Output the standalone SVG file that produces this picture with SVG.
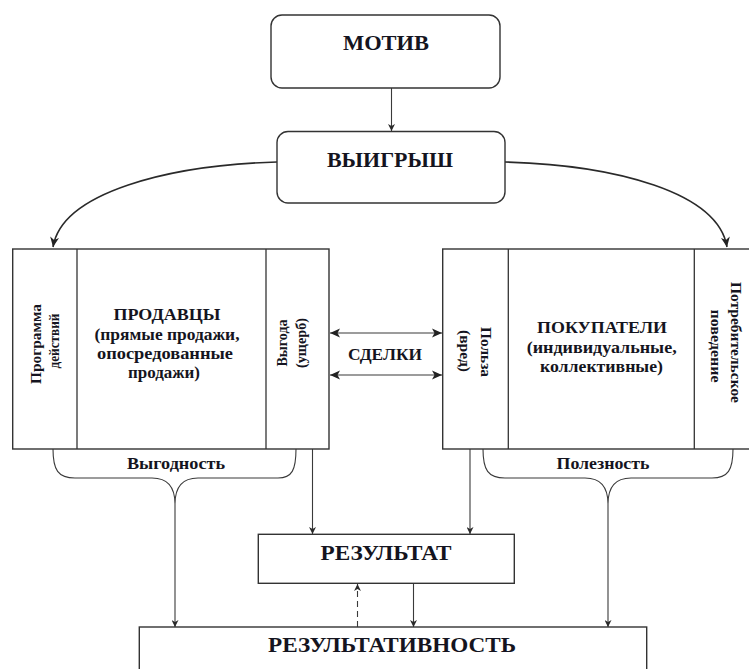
<svg xmlns="http://www.w3.org/2000/svg" width="749" height="669" viewBox="0 0 749 669">
<style>
.bx{fill:#fff;stroke:#333;stroke-width:1.4}
.dv{stroke:#333;stroke-width:1.3}
.ln{fill:none;stroke:#3a3a3a;stroke-width:1.1}
.cv{fill:none;stroke:#2a2a2a;stroke-width:1.6}
.t{font-family:"Liberation Serif","Times New Roman",serif;font-weight:bold;fill:#141420;text-anchor:middle}
.h{font-size:21px}
.m{font-size:16px}
.s{font-size:15px}
</style>
<defs>
<marker id="a" viewBox="0 0 10 10" refX="10" refY="5" markerWidth="7" markerHeight="7" markerUnits="userSpaceOnUse" orient="auto-start-reverse">
<path d="M0,0 L10,5 L0,10 L3,5 Z" fill="#2a2a2a"/>
</marker>
<marker id="b" viewBox="0 0 10 10" refX="10" refY="5" markerWidth="10" markerHeight="10" markerUnits="userSpaceOnUse" orient="auto-start-reverse">
<path d="M0,0.5 L10,5 L0,9.5 L2.5,5 Z" fill="#222"/>
</marker>
<marker id="c" viewBox="0 0 10 10" refX="10" refY="5" markerWidth="10" markerHeight="10" markerUnits="userSpaceOnUse" orient="auto">
<path d="M0,0.5 L10,5 L0,9.5 L3,5 Z" fill="#222"/>
</marker>
</defs>

<g id="connectors">
<line class="ln" x1="391.5" y1="88" x2="391.5" y2="131" marker-end="url(#a)"/>
<path class="cv" d="M277,162 C170,165 62,192 53,247" marker-end="url(#c)"/>
<path class="cv" d="M505,162 C615,165 718,192 727,247" marker-end="url(#c)"/>
<line class="ln" x1="330" y1="333" x2="442" y2="333" stroke-width="1.4" marker-start="url(#b)" marker-end="url(#b)"/>
<line class="ln" x1="330" y1="375" x2="442" y2="375" stroke-width="1.4" marker-start="url(#b)" marker-end="url(#b)"/>
<path class="ln" d="M53,449 C53,470 58,478 75,478 L152,478 C168,478 175,488 175,504 C175,488 182,478 198,478 L278,478 C292,478 296,470 296,449"/>
<path class="ln" d="M483,449 C483,470 488,478 505,478 L585,478 C601,478 608,488 608,504 C608,488 615,478 631,478 L712,478 C728,478 733,470 733,449"/>
<line class="ln" x1="175" y1="504" x2="175" y2="627" marker-end="url(#a)"/>
<line class="ln" x1="608" y1="504" x2="608" y2="627" marker-end="url(#a)"/>
<line class="ln" x1="312.5" y1="449" x2="312.5" y2="534" marker-end="url(#a)"/>
<line class="ln" x1="470" y1="449" x2="470" y2="534" marker-end="url(#a)"/>
<line class="ln" x1="413.5" y1="583.5" x2="413.5" y2="627" marker-end="url(#a)"/>
<line class="ln" x1="357.5" y1="627" x2="357.5" y2="584" stroke-dasharray="6,4" marker-end="url(#a)"/>
</g>

<g id="motiv">
<rect class="bx" x="271" y="15" width="229" height="73" rx="11"/>
<text class="t h" x="386" y="50" textLength="86" lengthAdjust="spacingAndGlyphs">МОТИВ</text>
</g>

<g id="vyigrysh">
<rect class="bx" x="277" y="131.5" width="228" height="71.5" rx="11"/>
<text class="t h" x="390" y="166.5" textLength="126" lengthAdjust="spacingAndGlyphs">ВЫИГРЫШ</text>
</g>

<g id="prodavtsy">
<rect class="bx" x="12.7" y="249" width="316.3" height="200"/>
<line class="dv" x1="77" y1="249" x2="77" y2="449"/>
<line class="dv" x1="266" y1="249" x2="266" y2="449"/>
<text class="t s" transform="translate(40.5,344) rotate(-90)" textLength="80" lengthAdjust="spacingAndGlyphs">Программа</text>
<text class="t s" transform="translate(59,341) rotate(-90)" textLength="55" lengthAdjust="spacingAndGlyphs">действий</text>
<text class="t m" x="167" y="320" textLength="107" lengthAdjust="spacingAndGlyphs">ПРОДАВЦЫ</text>
<text class="t m" x="167" y="340" textLength="145" lengthAdjust="spacingAndGlyphs">(прямые продажи,</text>
<text class="t m" x="165" y="359" textLength="136" lengthAdjust="spacingAndGlyphs">опосредованные</text>
<text class="t m" x="164" y="378" textLength="72" lengthAdjust="spacingAndGlyphs">продажи)</text>
<text class="t s" transform="translate(287,343) rotate(-90)" textLength="47" lengthAdjust="spacingAndGlyphs">Выгода</text>
<text class="t s" transform="translate(305.5,343) rotate(-90)" textLength="50" lengthAdjust="spacingAndGlyphs">(ущерб)</text>
<text class="t m" x="176" y="469" textLength="98" lengthAdjust="spacingAndGlyphs">Выгодность</text>
</g>

<g id="sdelki">
<text class="t m" x="385" y="360" textLength="74" lengthAdjust="spacingAndGlyphs">СДЕЛКИ</text>
</g>

<g id="pokupateli">
<rect class="bx" x="442.7" y="249" width="312" height="200"/>
<line class="dv" x1="508.3" y1="249" x2="508.3" y2="449"/>
<line class="dv" x1="694.3" y1="249" x2="694.3" y2="449"/>
<text class="t s" transform="translate(481,352) rotate(90)" textLength="50" lengthAdjust="spacingAndGlyphs">Польза</text>
<text class="t s" transform="translate(459.5,351) rotate(90)" textLength="42" lengthAdjust="spacingAndGlyphs">(вред)</text>
<text class="t m" x="602" y="333" textLength="130" lengthAdjust="spacingAndGlyphs">ПОКУПАТЕЛИ</text>
<text class="t m" x="601.7" y="352.5" textLength="150" lengthAdjust="spacingAndGlyphs">(индивидуальные,</text>
<text class="t m" x="601.5" y="372" textLength="123" lengthAdjust="spacingAndGlyphs">коллективные)</text>
<text class="t s" transform="translate(731,342.5) rotate(90)" textLength="121" lengthAdjust="spacingAndGlyphs">Потребительское</text>
<text class="t s" transform="translate(710.5,346) rotate(90)" textLength="73" lengthAdjust="spacingAndGlyphs">поведение</text>
<text class="t m" x="603" y="469" textLength="93" lengthAdjust="spacingAndGlyphs">Полезность</text>
</g>

<g id="rezultat">
<rect class="bx" x="258.3" y="534.3" width="256" height="49"/>
<text class="t h" x="386" y="559.5" textLength="131" lengthAdjust="spacingAndGlyphs">РЕЗУЛЬТАТ</text>
</g>

<g id="rezultativnost">
<rect class="bx" x="139.3" y="627" width="507.4" height="50"/>
<text class="t h" x="392" y="652" textLength="248" lengthAdjust="spacingAndGlyphs">РЕЗУЛЬТАТИВНОСТЬ</text>
</g>
</svg>
